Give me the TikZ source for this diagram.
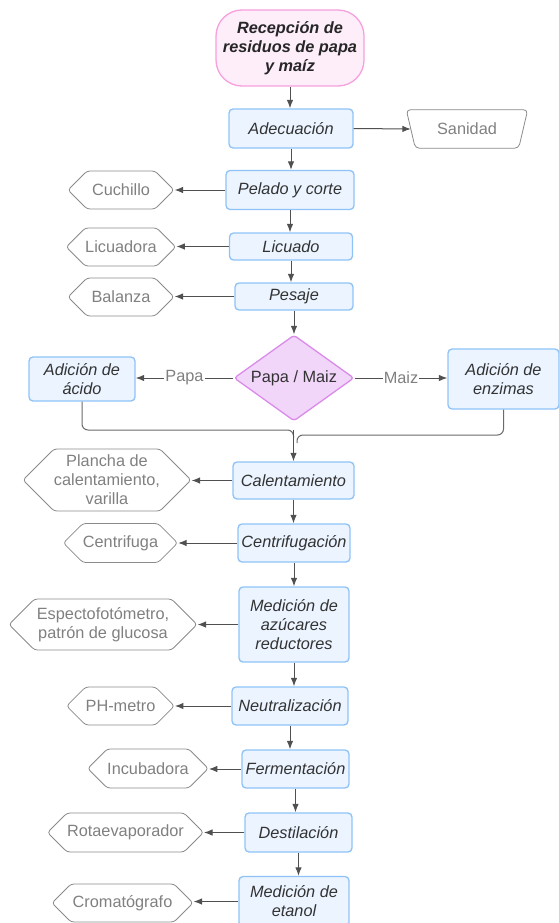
\documentclass[tikz,border=0pt]{standalone}
\usepackage{fontspec}
\setmainfont{Liberation Sans}
\usetikzlibrary{shapes.geometric,shapes.symbols,arrows.meta,calc}
\definecolor{boxfill}{HTML}{EBF4FF}
\definecolor{boxdraw}{HTML}{8FC3F7}
\definecolor{startfill}{HTML}{FDEEF9}
\definecolor{startdraw}{HTML}{F7A0DC}
\definecolor{diafill}{HTML}{F1D6F9}
\definecolor{diadraw}{HTML}{DA8BEA}
\definecolor{txtdark}{HTML}{333333}
\definecolor{txtgray}{HTML}{808080}
\definecolor{hexdraw}{HTML}{8A8A8A}
\definecolor{arrcol}{HTML}{505050}
\begin{document}
\begin{tikzpicture}[x=1pt,y=-1pt,
  every node/.style={font=\fontsize{16.3}{19}\selectfont, align=center, inner sep=0pt},
  proc/.style={draw=boxdraw, fill=boxfill, line width=1.3pt, rounded corners=4pt, text=txtdark, font=\fontsize{16.3}{19}\selectfont\itshape},
  equip/.style={signal, signal to=west and east, signal pointer angle=90, draw=hexdraw, line width=0.8pt, rounded corners=3pt, text=txtgray},
  arr/.style={draw=arrcol, line width=1pt, -{Latex[length=8.5pt,width=6.5pt]}},
  conn/.style={draw=arrcol!85, line width=1pt},
  lbl/.style={fill=white, text=txtgray, inner sep=1pt},
  outline/.style={draw=hexdraw, line width=0.8pt, rounded corners=4pt}
]
\useasboundingbox (0,0) rectangle (558,923);

\node[draw=startdraw, fill=startfill, line width=1.3pt, rounded corners=26pt, minimum width=148pt, minimum height=76pt, font=\fontsize{16.3}{19}\selectfont\bfseries\itshape, text=black!85] (start) at (290,48) {Recepción de\\residuos de papa\\y maíz};

\node[proc, minimum width=124pt, minimum height=39pt] (adec) at (291,128.5) {Adecuación};
\node[minimum width=121pt, minimum height=38pt, text=txtgray] (san) at (467,129) {Sanidad};
\draw[outline] (san.north west) -- (san.north east) -- ([xshift=-9pt]san.south east) -- ([xshift=9pt]san.south west) -- cycle;
\coordinate (sanin) at ([xshift=4.5pt]san.west);

\node[proc, minimum width=128pt, minimum height=39pt] (pel) at (290,190) {Pelado y corte};
\node[equip, minimum width=106pt, minimum height=38pt] (cuch) at (121,190) {Cuchillo};

\node[proc, minimum width=123pt, minimum height=27pt] (licu) at (291,246.5) {Licuado};
\node[equip, minimum width=106pt, minimum height=38pt] (licd) at (121,247) {Licuadora};

\node[proc, minimum width=118pt, minimum height=27pt] (pes) at (294,296.5) {Pesaje};
\node[equip, minimum width=106pt, minimum height=38pt] (bal) at (121,297) {Balanza};

\node[diamond, aspect=1.4, draw=diadraw, fill=diafill, line width=1.3pt, rounded corners=3pt, minimum width=120pt, minimum height=86pt, text=txtdark] (dia) at (294,378) {Papa / Maiz};

\node[proc, minimum width=106pt, minimum height=44pt] (acido) at (82,379) {Adición de\\ácido};
\node[proc, minimum width=111pt, minimum height=60pt] (enz) at (503.5,379) {Adición de\\enzimas};

\node[proc, minimum width=121pt, minimum height=37pt] (cal) at (293.5,480.5) {Calentamiento};
\node[equip, minimum width=133pt, minimum height=62pt] (planch) at (107,480) {Plancha de\\calentamiento,\\varilla};

\node[proc, minimum width=112pt, minimum height=38pt] (cen) at (294,543) {Centrifugación};
\node[equip, minimum width=105pt, minimum height=39pt] (cenf) at (120.5,543) {Centrifuga};

\node[proc, minimum width=110pt, minimum height=75pt] (azu) at (294,624.5) {Medición de\\azúcares\\reductores};
\node[equip, minimum width=188pt, minimum height=51pt] (esp) at (103,624.5) {Espectofotómetro,\\patrón de glucosa};

\node[proc, minimum width=116pt, minimum height=38pt] (neu) at (290,706) {Neutralización};
\node[equip, minimum width=105pt, minimum height=38pt] (ph) at (120.5,706) {PH-metro};

\node[proc, minimum width=107pt, minimum height=38pt] (fer) at (295.5,769) {Fermentación};
\node[equip, minimum width=106pt, minimum height=39pt] (inc) at (148,768.5) {Incubadora};

\node[proc, minimum width=107pt, minimum height=39pt] (des) at (298.5,832.5) {Destilación};
\node[equip, minimum width=143pt, minimum height=39pt] (rot) at (125.5,832.5) {Rotaevaporador};

\node[proc, minimum width=110pt, minimum height=50pt] (eta) at (294,901.5) {Medición de\\etanol};
\node[equip, minimum width=141pt, minimum height=38pt] (cro) at (122.5,903) {Cromatógrafo};

% vertical flow
\draw[arr] (start.south) -- (start.south |- adec.north);
\draw[arr] (adec.south) -- (adec.south |- pel.north);
\draw[arr] (pel.south) -- (pel.south |- licu.north);
\draw[arr] (licu.south) -- (licu.south |- pes.north);
\draw[arr] (pes.south) -- (dia.north);
\draw[arr] (cal.south) -- (cal.south |- cen.north);
\draw[arr] (cen.south) -- (cen.south |- azu.north);
\draw[arr] (azu.south) -- (azu.south |- neu.north);
\draw[arr] (neu.south) -- (neu.south |- fer.north);
\draw[arr] (fer.south) -- (fer.south |- des.north);
\draw[arr] (des.south) -- (des.south |- eta.north);

% side outputs
\draw[arr] (adec.east) -- (sanin);
\draw[arr] (pel.west) -- (cuch.east |- pel.west);
\draw[arr] (licu.west) -- (licd.east |- licu.west);
\draw[arr] (pes.west) -- (bal.east |- pes.west);
\draw[arr] (cal.west) -- (planch.east |- cal.west);
\draw[arr] (cen.west) -- (cenf.east |- cen.west);
\draw[arr] (azu.west) -- (esp.east |- azu.west);
\draw[arr] (neu.west) -- (ph.east |- neu.west);
\draw[arr] (fer.west) -- (inc.east |- fer.west);
\draw[arr] (des.west) -- (rot.east |- des.west);
\draw[arr] (eta.west) -- (cro.east |- eta.west);

% decision
\draw[arr] (dia.west) -- node[lbl] {Papa} (acido.east |- dia.west);
\draw[arr] (dia.east) -- node[lbl] {Maiz} (enz.west |- dia.east);

% merge
\coordinate (yl) at (0,430);
\coordinate (yr) at (0,435);
\coordinate (xr) at (297,0);
\draw[conn, rounded corners=6pt] (acido.south) |- (cal.north |- yl) -- ++(0,8);
\draw[conn, rounded corners=6pt] (enz.south) |- (xr |- yr) -- ++(0,8);
\draw[arr] (cal.north |- yl) -- (cal.north);
\end{tikzpicture}
\end{document}
